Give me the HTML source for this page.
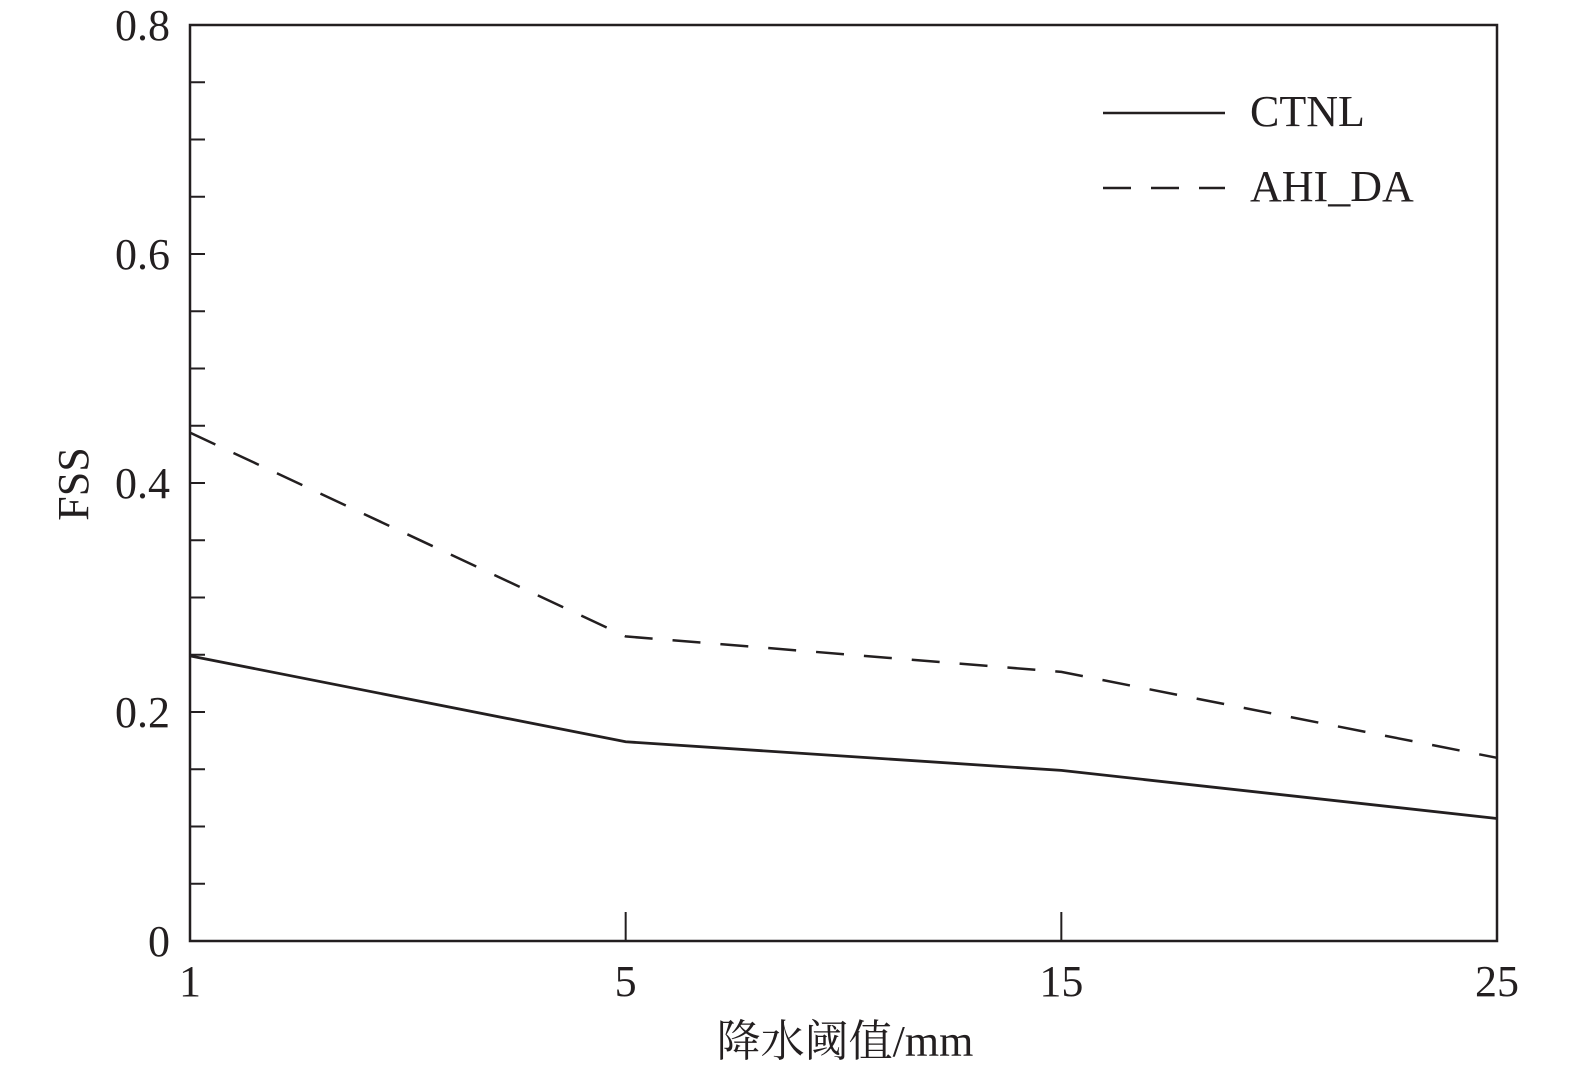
<!DOCTYPE html>
<html><head><meta charset="utf-8">
<style>
html,body{margin:0;padding:0;background:#fff;}
svg text{font-family:"Liberation Serif","Noto Serif CJK SC",serif;fill:#231f20;}
</style></head>
<body>
<svg id="chart" width="1575" height="1077" viewBox="0 0 1575 1077" xmlns="http://www.w3.org/2000/svg">
<rect x="190" y="25" width="1307" height="916" fill="none" stroke="#231f20" stroke-width="2.5"/>
<g id="axes"></g>
<g id="series"></g>
<g>
  <line x1="1103" y1="113" x2="1225" y2="113" stroke="#231f20" stroke-width="2.5"/>
  <text x="1250" y="126" font-size="44">CTNL</text>
  <line x1="1103" y1="188" x2="1225" y2="188" stroke="#231f20" stroke-width="2.5" stroke-dasharray="28,20"/>
  <text x="1250" y="201" font-size="44">AHI_DA</text>
</g>
<text transform="translate(88,484) rotate(-90)" text-anchor="middle" font-size="44">FSS</text>
<text x="845" y="1056" text-anchor="middle" font-size="44">降水阈值/mm</text>
</svg>
<script>
const categories = ["1","5","15","25"];
const ctnl = [0.249, 0.174, 0.149, 0.107];
const ahiDa = [0.444, 0.266, 0.235, 0.160];
const yTickLabels = ["0","0.2","0.4","0.6","0.8"];
const yTickValues = [0,0.2,0.4,0.6,0.8];

const NS="http://www.w3.org/2000/svg";
const L=190,R=1497,T=25,B=941,YMAX=0.8;
const xPos=i=>L+(R-L)*i/(categories.length-1);
const yPos=v=>B-(B-T)*v/YMAX;
const axes=document.getElementById('axes');
const series=document.getElementById('series');
function mk(tag,attrs,parent){const e=document.createElementNS(NS,tag);for(const k in attrs)e.setAttribute(k,attrs[k]);parent.appendChild(e);return e;}

for(let v=0;v<=YMAX+1e-9;v+=0.05){
  const t=mk('line',{x1:L,x2:L+15,y1:yPos(v),y2:yPos(v),stroke:'#231f20','stroke-width':2},axes);
  
  
}
yTickValues.forEach((v,i)=>{
  const t=mk('text',{x:170,y:yPos(v)+15,'text-anchor':'end','font-size':44},axes);
  t.textContent=yTickLabels[i];
  
  
});
categories.forEach((c,i)=>{
  const x=xPos(i);
  if(i>0&&i<categories.length-1){
    const tk=mk('line',{x1:x,x2:x,y1:B,y2:B-29,stroke:'#231f20','stroke-width':2},axes);
    
    
  }
  const t=mk('text',{x:x,y:996,'text-anchor':'middle','font-size':44},axes);
  t.textContent=c;
  
  
});
function pts(arr){return arr.map((v,i)=>xPos(i)+','+yPos(v)).join(' ');}
const l1=mk('polyline',{points:pts(ctnl),fill:'none',stroke:'#231f20','stroke-width':2.8},series);


const l2=mk('polyline',{points:pts(ahiDa),fill:'none',stroke:'#231f20','stroke-width':2.5,'stroke-dasharray':'28,20'},series);


</script>
</body></html>
